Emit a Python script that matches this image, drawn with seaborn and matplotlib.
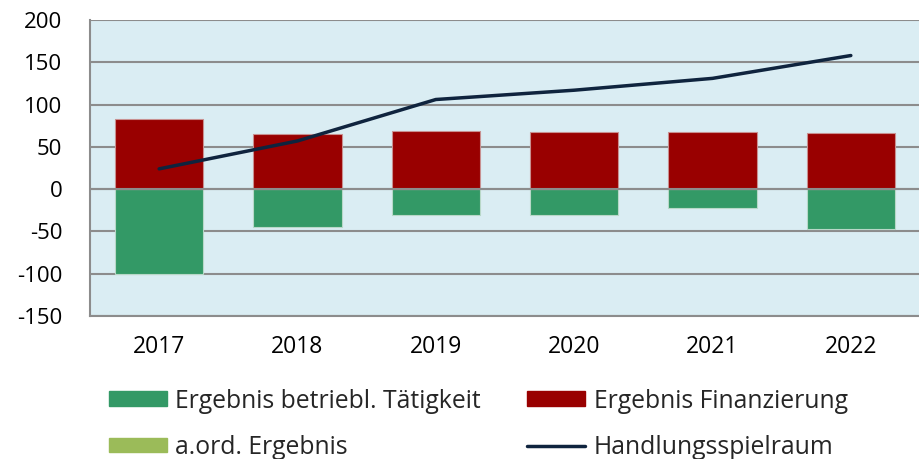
import numpy as np
import pandas as pd
import matplotlib
matplotlib.use("Agg")
import matplotlib.pyplot as plt
import seaborn as sns
from matplotlib.patches import Patch
from matplotlib.lines import Line2D

# data
years = ["2017", "2018", "2019", "2020", "2021", "2022"]
betrieb = [-100, -45, -31, -30, -22, -47]
finanz = [83, 65, 69, 67, 67, 66]
aord = [0, 0, 0, 0, 0, 0]
spielraum = [24, 57, 106, 117, 131, 158]
yticks = [-150, -100, -50, 0, 50, 100, 150, 200]

df = pd.DataFrame({"Jahr": years, "betrieb": betrieb, "finanz": finanz,
                   "aord": aord, "spielraum": spielraum})

sns.set_style("white")
plt.rcParams["font.family"] = ["Open Sans", "DejaVu Sans"]

c_green = "#339966"
c_red = "#990000"
c_light = "#9BBB59"
c_line = "#0F243E"
c_grid = "#8C8C8C"

fig = plt.figure(figsize=(9.2, 4.59), dpi=100)
ax = fig.add_axes([0.0978, 0.3115, 0.9022, 0.6449])
ax.set_facecolor("#DAEDF3")

sns.barplot(data=df, x="Jahr", y="betrieb", color=c_green, width=0.64,
            saturation=1, ax=ax, zorder=3, edgecolor="#B8D8C8", linewidth=0.8)
sns.barplot(data=df, x="Jahr", y="finanz", color=c_red, width=0.64,
            saturation=1, ax=ax, zorder=3, edgecolor="#C89090", linewidth=0.8)
sns.lineplot(x=np.arange(len(years)), y=df["spielraum"], color=c_line,
             linewidth=2.5, ax=ax, zorder=4)

ax.set_ylim(-150, 200)
ax.set_xlim(-0.5, 5.5)
ax.set_yticks(yticks)
ax.set_yticklabels([str(v) for v in yticks])
ax.yaxis.grid(True, color=c_grid, linewidth=1.5, zorder=1)
ax.set_axisbelow(True)
ax.axhline(0, color=c_grid, linewidth=1.5, zorder=3.5)
ax.set_xlabel("")
ax.set_ylabel("")
for s in ["top", "right"]:
    ax.spines[s].set_visible(False)
for s in ["left", "bottom"]:
    ax.spines[s].set_color(c_grid)
    ax.spines[s].set_linewidth(1.5)
ax.tick_params(axis="both", length=0, labelsize=16.5, colors="black")
ax.tick_params(axis="y", labelsize=16, pad=20)
ax.tick_params(axis="x", pad=14)

handles = [Patch(color=c_green, label="Ergebnis betriebl. Tätigkeit"),
           Patch(color=c_light, label="a.ord. Ergebnis"),
           Patch(color=c_red, label="Ergebnis Finanzierung"),
           Line2D([0], [0], color=c_line, linewidth=2.5, label="Handlungsspielraum")]
fig.legend(handles=handles, ncol=2, loc="lower left",
           bbox_to_anchor=(0.094, -0.05), frameon=False, fontsize=17.8,
           handlelength=2.35, handleheight=0.55, handletextpad=0.35,
           columnspacing=1.85, labelspacing=0.85)

fig.savefig("out.png", dpi=100)
